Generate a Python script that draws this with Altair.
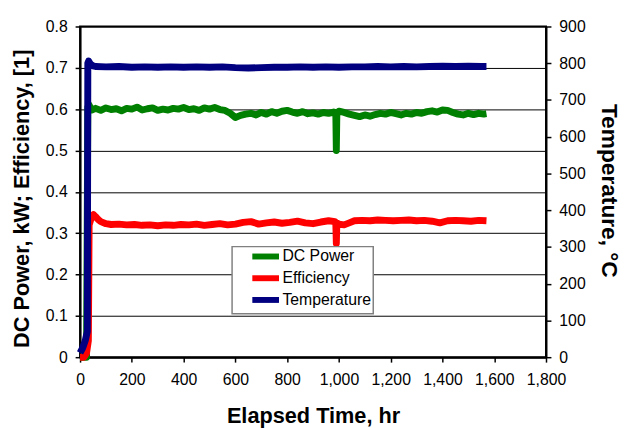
import altair as alt
import pandas as pd

# ---- data ----
series_names = ["DC Power", "Efficiency", "Temperature"]
series_colors = ["#008000", "#FF0000", "#000080"]

x_ticks = [0, 200, 400, 600, 800, 1000, 1200, 1400, 1600, 1800]
left_ticks = [0, 0.1, 0.2, 0.3, 0.4, 0.5, 0.6, 0.7, 0.8]
right_ticks = [0, 100, 200, 300, 400, 500, 600, 700, 800, 900]

power_t = [0, 25, 30, 35, 45, 60, 80, 100, 120, 140, 160, 180, 200, 220, 240, 260, 280, 300,
           320, 340, 360, 380, 400, 420, 440, 460, 480, 500, 520, 540, 560, 580, 600, 620,
           640, 660, 680, 700, 720, 740, 760, 780, 800, 820, 840, 860, 880, 900, 920, 940,
           960, 980, 988, 990, 992, 1000, 1020, 1040, 1060, 1080, 1100, 1120, 1140, 1160,
           1180, 1200, 1220, 1240, 1260, 1280, 1300, 1320, 1340, 1360, 1380, 1400, 1420,
           1440, 1460, 1480, 1500, 1520, 1540, 1560, 1570]
power_v = [0.0, 0.0, 0.605, 0.61, 0.598, 0.602, 0.597, 0.603, 0.599, 0.601, 0.596, 0.602,
           0.600, 0.605, 0.598, 0.601, 0.603, 0.597, 0.600, 0.598, 0.602, 0.600, 0.604,
           0.599, 0.601, 0.597, 0.603, 0.600, 0.604, 0.599, 0.597, 0.590, 0.580, 0.585,
           0.588, 0.590, 0.586, 0.592, 0.588, 0.594, 0.590, 0.595, 0.597, 0.593, 0.590,
           0.594, 0.589, 0.591, 0.588, 0.592, 0.590, 0.593, 0.590, 0.500, 0.590, 0.595,
           0.592, 0.588, 0.585, 0.582, 0.586, 0.583, 0.587, 0.590, 0.588, 0.592, 0.589,
           0.586, 0.590, 0.588, 0.592, 0.590, 0.594, 0.596, 0.593, 0.598, 0.597, 0.592,
           0.588, 0.586, 0.590, 0.587, 0.590, 0.588, 0.589]

eff_t = [0, 15, 25, 32, 35, 40, 45, 52, 60, 70, 80, 100, 120, 150, 180, 210, 240, 270, 300,
         330, 360, 390, 420, 450, 480, 510, 540, 570, 600, 630, 660, 690, 720, 750, 780,
         810, 840, 870, 900, 930, 960, 985, 988, 990, 992, 1000, 1020, 1040, 1060, 1090,
         1120, 1150, 1180, 1210, 1240, 1270, 1300, 1330, 1360, 1390, 1420, 1450, 1480,
         1510, 1540, 1570]
eff_v = [0.0, 0.0, 0.01, 0.04, 0.32, 0.33, 0.34, 0.345, 0.34, 0.333, 0.328, 0.323, 0.321,
         0.322, 0.320, 0.321, 0.319, 0.320, 0.318, 0.320, 0.319, 0.321, 0.320, 0.322,
         0.319, 0.321, 0.323, 0.320, 0.322, 0.326, 0.328, 0.322, 0.325, 0.327, 0.324,
         0.326, 0.329, 0.325, 0.323, 0.327, 0.330, 0.328, 0.325, 0.275, 0.325, 0.322,
         0.320, 0.325, 0.330, 0.331, 0.330, 0.332, 0.331, 0.330, 0.331, 0.332, 0.330,
         0.331, 0.329, 0.325, 0.330, 0.331, 0.330, 0.329, 0.331, 0.330]

temp_t = [0, 10, 20, 28, 30, 33, 40, 50, 60, 100, 150, 200, 250, 300, 350, 400, 450, 500,
          550, 600, 650, 700, 750, 800, 850, 900, 950, 1000, 1050, 1100, 1150, 1200, 1250,
          1300, 1350, 1400, 1450, 1500, 1550, 1570]
temp_v = [12, 25, 45, 70, 800, 806, 798, 793, 791, 790, 791, 789, 790, 789, 790, 789, 790,
          789, 790, 788, 787, 788, 789, 789, 790, 789, 790, 789, 790, 790, 791, 790, 791,
          790, 791, 792, 791, 792, 791, 791]

df_left = pd.concat([
    pd.DataFrame({"t": power_t, "v": power_v, "s": series_names[0]}),
    pd.DataFrame({"t": eff_t, "v": eff_v, "s": series_names[1]}),
], ignore_index=True)
df_temp = pd.DataFrame({"t": temp_t, "T": temp_v, "s": series_names[2]})

FONT = "Liberation Sans"

color = alt.Color(
    "s:N",
    scale=alt.Scale(domain=series_names, range=series_colors),
    legend=alt.Legend(
        title=None, orient="none", legendX=154, legendY=223,
        symbolType="M-2.7,0H2.7", symbolStrokeWidth=6, symbolSize=100,
        labelFont=FONT, labelFontSize=16, labelColor="black",
        labelExpr="datum.label + '  '",
        strokeColor="#808080", fillColor="white", padding=2,
        rowPadding=-2, symbolOffset=24, labelOffset=9,
    ),
)

x = alt.X(
    "t:Q",
    scale=alt.Scale(domain=[0, 1800], nice=False),
    axis=alt.Axis(values=x_ticks, format=",d", title="Elapsed Time, hr", grid=False,
                  labelPadding=10, labelOverlap=False, labelFlush=False,
                  titleBaseline="alphabetic", titleY=66),
)

line_style = dict(strokeWidth=7, strokeJoin="round")

left = alt.Chart(df_left).mark_line(**line_style).encode(
    x=x,
    y=alt.Y("v:Q", scale=alt.Scale(domain=[0, 0.8], nice=False),
            axis=alt.Axis(values=left_ticks, format=".1~f",
                          title="DC Power, kW; Efficiency, [1]", grid=True,
                          labelPadding=8, titleAngle=270, titleX=-59, titleY=174,
                          titleAlign="center", titleBaseline="middle")),
    color=color,
)

right = alt.Chart(df_temp).mark_line(**line_style).encode(
    x=x,
    y=alt.Y("T:Q", scale=alt.Scale(domain=[0, 900], nice=False),
            axis=alt.Axis(values=right_ticks, format="d", orient="right",
                          title="Temperature, °C", grid=False, labelPadding=8,
                          titleAngle=90, titleX=63, titleY=166, titleFontSize=23,
                          titleAlign="center", titleBaseline="middle")),
    color=color,
)

chart = (
    alt.layer(left, right)
    .resolve_scale(y="independent")
    .properties(width=472, height=335,
                autosize=alt.AutoSizeParams(type="none"),
                padding={"left": 73, "top": 16, "right": 78, "bottom": 69},
                background="white")
    .configure_view(stroke="black", strokeWidth=2)
    .configure_axis(labelFont=FONT, labelFontSize=16, labelColor="black",
                    titleFont=FONT, titleFontSize=22, titleFontWeight="bold",
                    titleColor="black", domainColor="black", domainWidth=2,
                    tickColor="black", tickSize=5, tickWidth=1.5,
                    gridColor="black", gridWidth=1, gridOpacity=1)
    .configure_legend(strokeWidth=1.5)
)

chart.save("out.html", embed_options={"renderer": "svg", "actions": False})
